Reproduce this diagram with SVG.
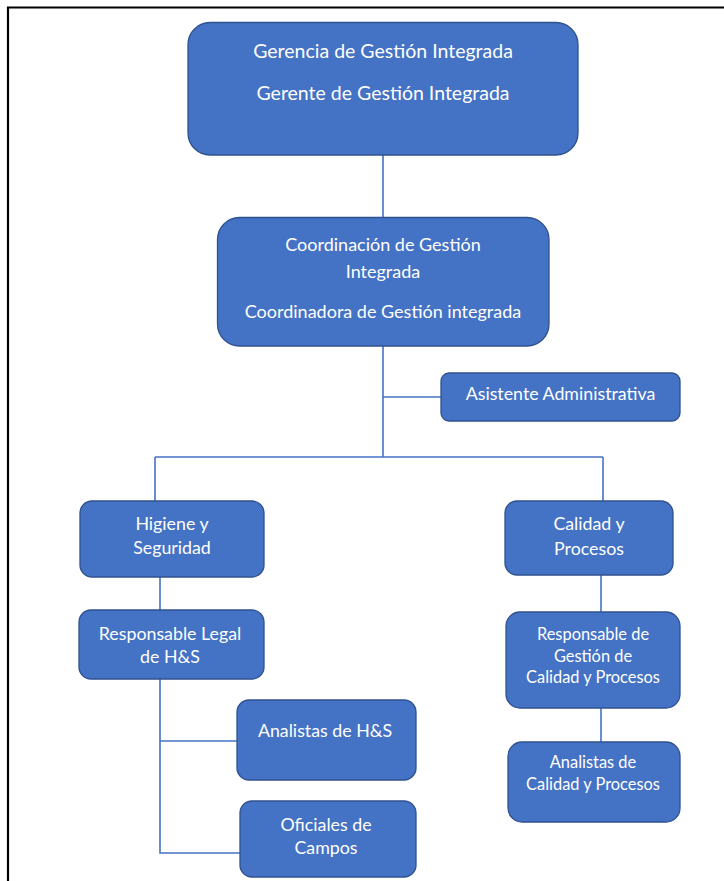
<svg xmlns="http://www.w3.org/2000/svg" width="724" height="881" viewBox="0 0 724 881">
  <style>
    .box { fill: #4472C4; stroke: #2F528F; stroke-width: 1.3; }
    .lbl { fill: #FFFFFF; font-family: Lato, "Open Sans", "Liberation Sans", sans-serif; text-anchor: middle; }
    .top { font-size: 19.5px; }
    .big { font-size: 18px; }
    .mid { font-size: 17.8px; }
    .sm { font-size: 16.4px; }
    .link { fill: none; stroke: #4472C4; stroke-width: 1.6; }
  </style>
  <rect width="724" height="881" fill="#FFFFFF"/>
  <!-- page frame: top and left edges only -->
  <path d="M8 881 V7.5 H724" fill="none" stroke="#000000" stroke-width="2.2"/>

  <g id="connectors">
    <path class="link" d="M383 155 V218"/>
    <path class="link" d="M383 346 V457"/>
    <path class="link" d="M383 397 H441"/>
    <path class="link" d="M155 457 H603"/>
    <path class="link" d="M155 457 V501"/>
    <path class="link" d="M603 457 V501"/>
    <path class="link" d="M160 577 V610"/>
    <path class="link" d="M160 679 V853 H240"/>
    <path class="link" d="M160 741 H237"/>
    <path class="link" d="M601 575 V612"/>
    <path class="link" d="M601 708 V742"/>
  </g>

  <g id="gerencia">
    <rect class="box" x="188" y="22.5" width="390" height="132.5" rx="22"/>
    <text class="lbl top" x="383" y="58">Gerencia de Gestión Integrada</text>
    <text class="lbl top" x="383" y="100">Gerente de Gestión Integrada</text>
  </g>

  <g id="coordinacion">
    <rect class="box" x="217.5" y="217.5" width="331.5" height="128.5" rx="22"/>
    <text class="lbl big" x="383" y="251">Coordinación de Gestión</text>
    <text class="lbl big" x="383" y="278">Integrada</text>
    <text class="lbl big" x="383" y="318">Coordinadora de Gestión integrada</text>
  </g>

  <g id="asistente">
    <rect class="box" x="441" y="373" width="239" height="48" rx="8"/>
    <text class="lbl mid" x="560.5" y="400">Asistente Administrativa</text>
  </g>

  <g id="higiene">
    <rect class="box" x="80" y="501" width="184" height="76" rx="12"/>
    <text class="lbl mid" x="172" y="530">Higiene y</text>
    <text class="lbl mid" x="172" y="554">Seguridad</text>
  </g>

  <g id="calidad">
    <rect class="box" x="505" y="501" width="168" height="74" rx="12"/>
    <text class="lbl mid" x="589" y="530">Calidad y</text>
    <text class="lbl mid" x="589" y="555">Procesos</text>
  </g>

  <g id="responsable-legal">
    <rect class="box" x="79" y="610" width="185" height="69" rx="12"/>
    <text class="lbl mid" x="170" y="640">Responsable Legal</text>
    <text class="lbl mid" x="170" y="663">de H&amp;S</text>
  </g>

  <g id="analistas-hs">
    <rect class="box" x="237" y="700" width="179" height="80" rx="12"/>
    <text class="lbl mid" x="325" y="737">Analistas de H&amp;S</text>
  </g>

  <g id="oficiales">
    <rect class="box" x="240" y="801" width="176" height="76" rx="12"/>
    <text class="lbl mid" x="326" y="831">Oficiales de</text>
    <text class="lbl mid" x="326" y="854">Campos</text>
  </g>

  <g id="responsable-calidad">
    <rect class="box" x="506" y="612" width="174" height="96" rx="14"/>
    <text class="lbl sm" x="593" y="640">Responsable de</text>
    <text class="lbl sm" x="593" y="662">Gestión de</text>
    <text class="lbl sm" x="593" y="683">Calidad y Procesos</text>
  </g>

  <g id="analistas-calidad">
    <rect class="box" x="508" y="742" width="172" height="80" rx="14"/>
    <text class="lbl sm" x="593" y="768">Analistas de</text>
    <text class="lbl sm" x="593" y="790">Calidad y Procesos</text>
  </g>
</svg>
